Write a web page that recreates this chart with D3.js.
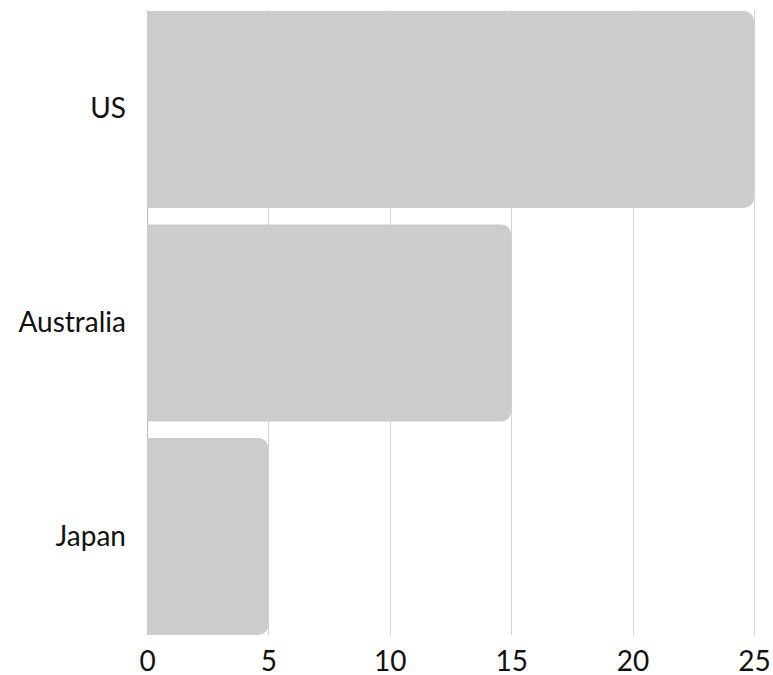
<!DOCTYPE html>
<html>
<head>
<meta charset="utf-8">
<script src="https://cdn.jsdelivr.net/npm/d3@7"></script>
<style>
  html, body { margin: 0; padding: 0; background: #ffffff; }
  svg { display: block; font-family: Lato, "Open Sans", sans-serif; }
</style>
</head>
<body>
<svg id="chart" width="773" height="675"></svg>
<script>
// Chart data
const countries = ["US", "Australia", "Japan"];
const values = [25, 15, 5];
const xTicks = [0, 5, 10, 15, 20, 25];

const svg = d3.select("#chart");
const margin = { top: 11, right: 19, bottom: 40, left: 147 };
const width = 773 - margin.left - margin.right;
const height = 675 - margin.top - margin.bottom;

const g = svg.append("g").attr("transform", `translate(${margin.left},${margin.top})`);

const x = d3.scaleLinear().domain([0, 25]).range([0, width]);
const y = d3.scaleBand().domain(countries).range([0, height]).paddingInner(0.078).paddingOuter(0);

// Vertical gridlines
g.append("g")
  .selectAll("line")
  .data(xTicks)
  .join("line")
  .attr("x1", d => Math.round(x(d)) + 0.5)
  .attr("x2", d => Math.round(x(d)) + 0.5)
  .attr("y1", -1)
  .attr("y2", height)
  .attr("stroke", d => d === 0 ? "#bdbdbd" : "#d4d4d4")
  .attr("stroke-width", 1);

// Bars with rounded right corners
const r = 10;
function barPath(w, h) {
  const rr = Math.min(r, w / 2, h / 2);
  return `M0,0 H${w - rr} A${rr},${rr} 0 0 1 ${w},${rr} V${h - rr} A${rr},${rr} 0 0 1 ${w - rr},${h} H0 Z`;
}
g.append("g")
  .selectAll("path")
  .data(countries.map((c, i) => ({ c, v: values[i] })))
  .join("path")
  .attr("transform", d => `translate(${x(0)},${y(d.c)})`)
  .attr("d", d => barPath(x(d.v) - x(0), y.bandwidth()))
  .attr("fill", "#cccccc");

// X axis labels
const xAxis = d3.axisBottom(x).tickValues(xTicks).tickSize(0).tickPadding(16);
g.append("g")
  .attr("transform", `translate(0,${height})`)
  .call(xAxis)
  .call(a => a.select(".domain").remove())
  .call(a => a.attr("font-size", 28).attr("font-family", "Lato, sans-serif"))
  .selectAll("text")
  .attr("fill", "#111");

// Y axis labels
const yAxis = d3.axisLeft(y).tickSize(0).tickPadding(21);
g.append("g")
  .call(yAxis)
  .call(a => a.select(".domain").remove())
  .call(a => a.attr("font-size", 28).attr("font-family", "Lato, sans-serif"))
  .selectAll("text")
  .attr("fill", "#111");
</script>
</body>
</html>
